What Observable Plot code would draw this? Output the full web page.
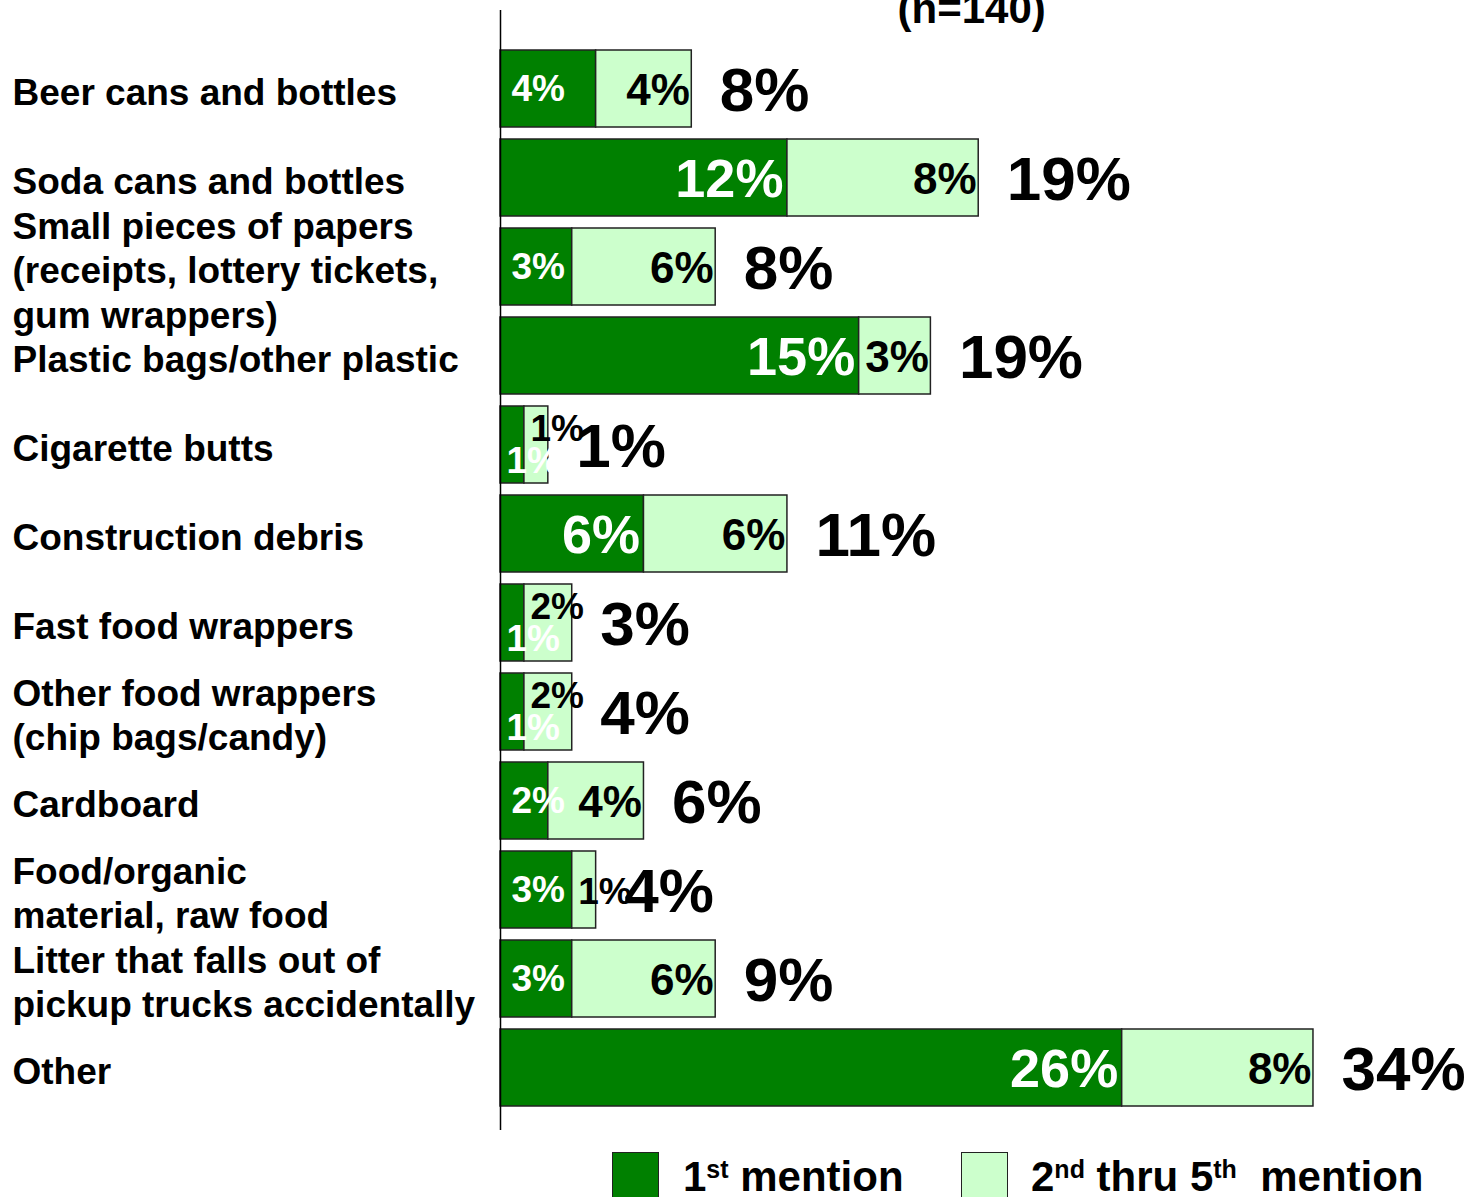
<!DOCTYPE html>
<html><head><meta charset="utf-8">
<script src="https://cdn.jsdelivr.net/npm/d3@7"></script>
<script src="https://cdn.jsdelivr.net/npm/@observablehq/plot@0.6"></script>
<style>
html,body{margin:0;padding:0;background:#fff;overflow:hidden}
body{font-family:"Liberation Sans",Arial,Helvetica,sans-serif;font-weight:bold;color:#000}
#chart svg{display:block}
#legend{position:relative;width:1466px;height:47px;overflow:hidden}
.sw{position:absolute;top:2px;width:45px;height:50px;border:1.5px solid #222}
.lt{position:absolute;top:6px;font-size:42px;line-height:42px;white-space:pre}
.lt sup{font-size:25px;line-height:0;vertical-align:13px}
</style>
</head><body>
<div id="chart"></div>
<div id="legend"></div>
<script>
const categories = [
  "Beer cans and bottles",
  "Soda cans and bottles",
  "Small pieces of papers\n(receipts, lottery tickets,\ngum wrappers)",
  "Plastic bags/other plastic",
  "Cigarette butts",
  "Construction debris",
  "Fast food wrappers",
  "Other food wrappers\n(chip bags/candy)",
  "Cardboard",
  "Food/organic\nmaterial, raw food",
  "Litter that falls out of\npickup trucks accidentally",
  "Other"
];
const firstMention = [4, 12, 3, 15, 1, 6, 1, 1, 2, 3, 3, 26];
const laterMention = [4, 8, 6, 3, 1, 6, 2, 2, 4, 1, 6, 8];
const totalMention = [8, 19, 8, 19, 1, 11, 3, 4, 6, 4, 9, 34];
const seriesNames = ["1st mention", "2nd thru 5th mention"];
const sampleNote = "(n=140)";

const rows = categories.map((c, i) => ({
  cat: c, first: firstMention[i], later: laterMention[i],
  total: totalMention[i], sum: firstMention[i] + laterMention[i]
}));
const long = rows.flatMap(r => [
  {cat: r.cat, series: seriesNames[0], value: r.first},
  {cat: r.cat, series: seriesNames[1], value: r.later}
]);
const pct = v => v + "%";
const F = "bold";

const chart = Plot.plot({
  width: 1466, height: 1150,
  marginLeft: 500, marginRight: 0, marginTop: 10, marginBottom: 4,
  style: {fontFamily: "'Liberation Sans', Arial, Helvetica, sans-serif", background: "#fff", overflow: "visible"},
  x: {domain: [0, 40.4], axis: null},
  y: {domain: categories, axis: null, paddingInner: 0.14, paddingOuter: 0.41},
  color: {domain: seriesNames, range: ["#008000", "#ccffcc"]},
  marks: [
    Plot.barX(long, {x: "value", y: "cat", fill: "series", stroke: "#222", strokeWidth: 1.5}),
    Plot.ruleX([0], {stroke: "#000", strokeWidth: 1.5, insetBottom: 16}),
    // category labels
    Plot.text(categories, {y: d => d, text: d => d, frameAnchor: "left", textAnchor: "start",
      dx: -488, dy: 2, fontSize: 37, fontWeight: F, lineHeight: 1.2, fill: "#000"}),
    // first-mention labels (white)
    Plot.text(rows.filter(r => r.first >= 6), {x: "first", y: "cat", text: r => pct(r.first),
      textAnchor: "end", dx: -4, dy: 2, fontSize: 54, fontWeight: F, fill: "#fff"}),
    Plot.text(rows.filter(r => r.first < 6 && r.first > 1), {x: r => 0, y: "cat", text: r => pct(r.first),
      textAnchor: "start", dx: 11, dy: 0, fontSize: 37, fontWeight: F, fill: "#fff"}),
    Plot.text(rows.filter(r => r.first <= 1), {x: r => 0, y: "cat", text: r => pct(r.first),
      textAnchor: "start", dx: 6, dy: 16, fontSize: 37, fontWeight: F, fill: "#fff"}),
    // later-mention labels (black)
    Plot.text(rows.filter(r => r.later >= 3), {x: "sum", y: "cat", text: r => pct(r.later),
      textAnchor: "end", dx: -2, dy: 2, fontSize: 44, fontWeight: F, fill: "#000"}),
    Plot.text(rows.filter(r => r.later < 3 && r.first > 1), {x: "first", y: "cat", text: r => pct(r.later),
      textAnchor: "start", dx: 6, dy: 2, fontSize: 37, fontWeight: F, fill: "#000"}),
    Plot.text(rows.filter(r => r.later < 3 && r.first <= 1), {x: "first", y: "cat", text: r => pct(r.later),
      textAnchor: "start", dx: 6, dy: -16, fontSize: 37, fontWeight: F, fill: "#000"}),
    // totals
    Plot.text(rows, {x: "sum", y: "cat", text: r => pct(r.total),
      textAnchor: "start", dx: 28, dy: 2, fontSize: 62, fontWeight: F, fill: "#000"}),
    // sample note
    Plot.text([sampleNote], {frameAnchor: "top-left", text: d => d, textAnchor: "start", lineAnchor: "top",
      dx: 397, dy: -17, fontSize: 42, fontWeight: F, fill: "#000"})
  ]
});
document.getElementById("chart").appendChild(chart);

const legend = document.getElementById("legend");
const items = [
  {left: 612, textLeft: 683, color: "#008000", html: "1<sup>st</sup> mention"},
  {left: 961, textLeft: 1031, color: "#ccffcc", html: "2<sup>nd</sup> thru 5<sup>th</sup>  mention"}
];
items.forEach(it => {
  const sw = document.createElement("div");
  sw.className = "sw"; sw.style.left = it.left + "px"; sw.style.background = it.color;
  legend.appendChild(sw);
  const t = document.createElement("div");
  t.className = "lt"; t.style.left = it.textLeft + "px"; t.innerHTML = it.html;
  legend.appendChild(t);
});
</script>
</body></html>
